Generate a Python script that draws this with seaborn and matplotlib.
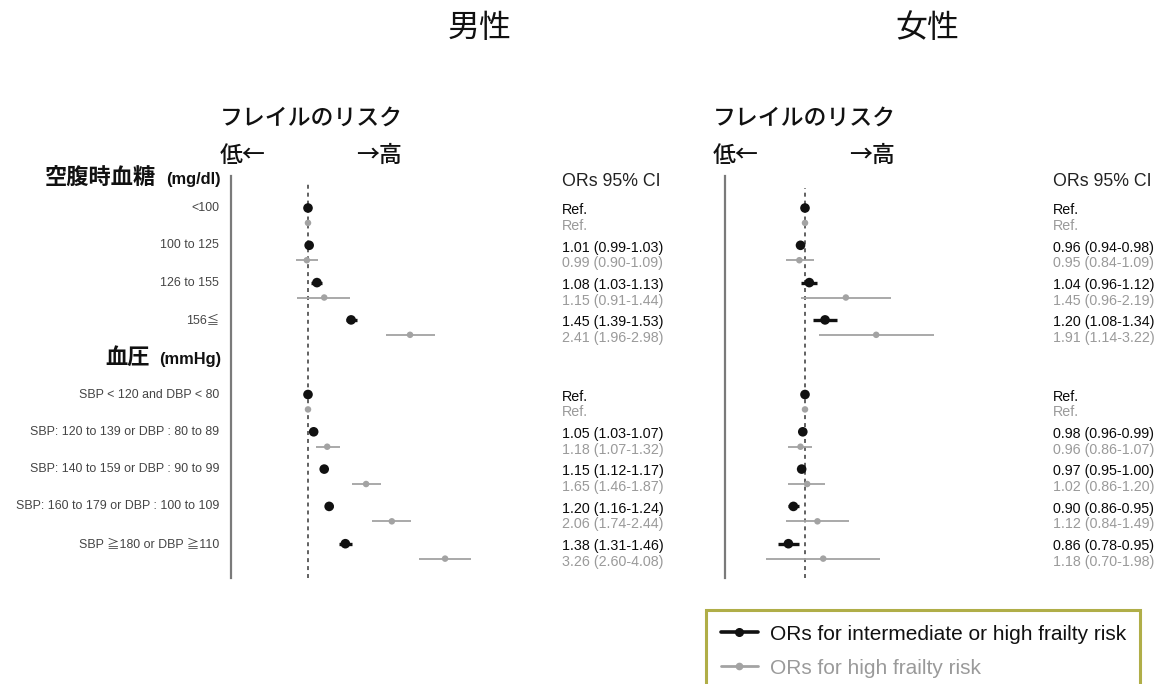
import matplotlib
matplotlib.use("Agg")
import numpy as np
import pandas as pd
import matplotlib.pyplot as plt
import seaborn as sns
from matplotlib.lines import Line2D
from matplotlib.transforms import blended_transform_factory

# ---------------------------------------------------------------- data
glucose_labels = ["<100", "100 to 125", "126 to 155", "156≦"]
bp_labels = [
    "SBP < 120 and DBP < 80",
    "SBP: 120 to 139 or DBP : 80 to 89",
    "SBP: 140 to 159 or DBP : 90 to 99",
    "SBP: 160 to 179 or DBP : 100 to 109",
    "SBP ≧180 or DBP ≧110",
]

# men: intermediate-or-high frailty risk
men_mid_or = [1.00, 1.01, 1.08, 1.45, 1.00, 1.05, 1.15, 1.20, 1.38]
men_mid_lo = [1.00, 0.99, 1.03, 1.39, 1.00, 1.03, 1.12, 1.16, 1.31]
men_mid_hi = [1.00, 1.03, 1.13, 1.53, 1.00, 1.07, 1.17, 1.24, 1.46]
# men: high frailty risk
men_high_or = [1.00, 0.99, 1.15, 2.41, 1.00, 1.18, 1.65, 2.06, 3.26]
men_high_lo = [1.00, 0.90, 0.91, 1.96, 1.00, 1.07, 1.46, 1.74, 2.60]
men_high_hi = [1.00, 1.09, 1.44, 2.98, 1.00, 1.32, 1.87, 2.44, 4.08]

# women: intermediate-or-high frailty risk
women_mid_or = [1.00, 0.96, 1.04, 1.20, 1.00, 0.98, 0.97, 0.90, 0.86]
women_mid_lo = [1.00, 0.94, 0.96, 1.08, 1.00, 0.96, 0.95, 0.86, 0.78]
women_mid_hi = [1.00, 0.98, 1.12, 1.34, 1.00, 0.99, 1.00, 0.95, 0.95]
# women: high frailty risk
women_high_or = [1.00, 0.95, 1.45, 1.91, 1.00, 0.96, 1.02, 1.12, 1.18]
women_high_lo = [1.00, 0.84, 0.96, 1.14, 1.00, 0.86, 0.86, 0.84, 0.70]
women_high_hi = [1.00, 1.09, 2.19, 3.22, 1.00, 1.07, 1.20, 1.49, 1.98]

is_ref = [True, False, False, False, True, False, False, False, False]

legend_labels = ["ORs for intermediate or high frailty risk",
                 "ORs for high frailty risk"]

# ---------------------------------------------------------------- style
sns.set_theme(style="white")
plt.rcParams["font.family"] = ["Liberation Sans", "Noto Sans CJK JP"]
CJK = ["Noto Sans CJK JP", "DejaVu Sans"]

BLACK = "#111111"
GREY = "#a3a3a3"
GREY_TXT = "#9a9a9a"

W, H = 1166, 684
fig = plt.figure(figsize=(W / 100, H / 100), dpi=100)


def px_axes(x0, x1, y0, y1):
    return fig.add_axes([x0 / W, 1 - y1 / H, (x1 - x0) / W, (y1 - y0) / H])


# row slots: glucose rows 0-3, blood-pressure header at 4, bp rows 5-9
slots = np.array([0, 1, 2, 3, 5, 6, 7, 8, 9], dtype=float)
OFFSET = 0.40
SLOT_PX, SLOT0_PX = 37.3, 208
AX_TOP, AX_BOT = 176, 578


def slot_of(px):
    return (px - SLOT0_PX) / SLOT_PX


def make_frame(mid, high):
    mo, ml, mh = mid
    ho, hl, hh = high
    a = pd.DataFrame({"y": slots, "or": mo, "lo": ml, "hi": mh,
                      "series": "mid"})
    b = pd.DataFrame({"y": slots + OFFSET, "or": ho, "lo": hl, "hi": hh,
                      "series": "high"})
    return pd.concat([b, a], ignore_index=True)


def fmt(o, l, h, ref):
    return "Ref." if ref else f"{o:.2f} ({l:.2f}-{h:.2f})"


def draw_panel(ax, df, ref_x0, px_per_log, x_left, x_right, text_x,
               dash_top):
    # log-scaled odds-ratio axis, OR = 1 lands at ref_x0 pixels
    ax.set_xscale("log")
    ax.set_xlim(np.exp(-(ref_x0 - x_left) / px_per_log),
                np.exp((x_right - ref_x0) / px_per_log))
    ax.set_ylim(slot_of(AX_BOT), slot_of(AX_TOP))
    ax.set_facecolor("none")

    for s in ["top", "right", "bottom"]:
        ax.spines[s].set_visible(False)
    ax.spines["left"].set_color("#7a7a7a")
    ax.spines["left"].set_linewidth(1.6)
    ax.set_xticks([])
    ax.set_xticks([], minor=True)
    ax.set_yticks([])

    ax.plot([1, 1], [slot_of(AX_BOT), slot_of(dash_top)], color="#555555",
            lw=1.3, ls=(0, (2.2, 2.2)), zorder=1)

    for ser, col, lw in [("high", GREY, 1.3), ("mid", BLACK, 2.4)]:
        sub = df[df.series == ser]
        ax.hlines(sub.y, sub.lo, sub.hi, colors=col, lw=lw, zorder=2)

    sns.scatterplot(data=df, x="or", y="y", hue="series", size="series",
                    palette={"mid": BLACK, "high": GREY},
                    sizes={"mid": 48, "high": 22},
                    edgecolor="none", legend=False, ax=ax, zorder=3)
    ax.set_xlabel("")
    ax.set_ylabel("")

    tr = blended_transform_factory(ax.transAxes, ax.transData)
    tx = (text_x - x_left) / (x_right - x_left)
    mid = df[df.series == "mid"].reset_index(drop=True)
    high = df[df.series == "high"].reset_index(drop=True)
    for i in range(len(mid)):
        ax.text(tx, mid.y[i] + 0.06,
                fmt(mid["or"][i], mid.lo[i], mid.hi[i], is_ref[i]),
                transform=tr, ha="left", va="center", fontsize=10.3,
                color="#0a0a0a")
        ax.text(tx, high.y[i] + 0.08,
                fmt(high["or"][i], high.lo[i], high.hi[i], is_ref[i]),
                transform=tr, ha="left", va="center", fontsize=10.3,
                color=GREY_TXT)
    ax.text(tx, slot_of(181), "ORs 95% CI", transform=tr, ha="left",
            va="center", fontsize=12.8, color="#222222")


# ---------------------------------------------------------------- men
ax_m = px_axes(231, 700, AX_TOP, AX_BOT)
df_m = make_frame((men_mid_or, men_mid_lo, men_mid_hi),
                  (men_high_or, men_high_lo, men_high_hi))
draw_panel(ax_m, df_m, 308, 116, 231, 700, 562, 183)

# row labels and group headers to the left of the men panel
trf = blended_transform_factory(fig.transFigure, ax_m.transData)
for lab, y in zip(glucose_labels + bp_labels, slots):
    ax_m.text(219 / W, y, lab, transform=trf, ha="right", va="center",
              fontsize=8.9, color="#444444")

ax_m.text(221 / W, slot_of(179), "(mg/dl)", transform=trf, ha="right",
          va="center", fontsize=11.8, fontweight="bold", color="#111111")
ax_m.text(156 / W, slot_of(177), "空腹時血糖", transform=trf, ha="right",
          va="center", fontsize=16, fontweight="bold", family=CJK,
          color="#111111")
ax_m.text(221 / W, slot_of(359), "(mmHg)", transform=trf, ha="right",
          va="center", fontsize=11.8, fontweight="bold", color="#111111")
ax_m.text(150 / W, slot_of(357), "血圧", transform=trf, ha="right",
          va="center", fontsize=16, fontweight="bold", family=CJK,
          color="#111111")

# ---------------------------------------------------------------- women
ax_w = px_axes(725, 1166, AX_TOP, AX_BOT)
df_w = make_frame((women_mid_or, women_mid_lo, women_mid_hi),
                  (women_high_or, women_high_lo, women_high_hi))
draw_panel(ax_w, df_w, 805, 110, 725, 1166, 1053, 188)

# ---------------------------------------------------------------- titles
fig.text(480 / W, 1 - 28 / H, "男性", ha="center", va="center",
         fontsize=23, family=CJK, color="#111111")
fig.text(927 / W, 1 - 28 / H, "女性", ha="center", va="center",
         fontsize=23, family=CJK, color="#111111")

for x0, x1 in [(220, 402), (713, 895)]:
    fig.text(x0 / W, 1 - 118 / H, "フレイルのリスク", ha="left",
             va="center", fontsize=16.5, family=CJK, fontweight="medium",
             color="#111111")
    fig.text(x0 / W, 1 - 155 / H, "低←", ha="left", va="center",
             fontsize=16.5, family=CJK, fontweight="medium",
             color="#111111")
    fig.text(x1 / W, 1 - 155 / H, "→高", ha="right", va="center",
             fontsize=16.5, family=CJK, fontweight="medium",
             color="#111111")

# ---------------------------------------------------------------- legend
handles = [
    Line2D([], [], color=BLACK, lw=2.6, marker="o", ms=5.5),
    Line2D([], [], color=GREY, lw=2.0, marker="o", ms=4.5),
]
leg = fig.legend(handles, legend_labels, loc="upper left",
                 bbox_to_anchor=(706 / W, 1 - 610 / H),
                 bbox_transform=fig.transFigure, frameon=True,
                 fancybox=False, fontsize=15, borderpad=0.7,
                 labelspacing=0.72, handlelength=1.8, handletextpad=0.55,
                 borderaxespad=0)
leg.get_frame().set_edgecolor("#9c9a1a")
leg.get_frame().set_linewidth(2.2)
leg.get_texts()[0].set_color("#111111")
leg.get_texts()[1].set_color(GREY_TXT)

fig.savefig("out.png", dpi=100)
